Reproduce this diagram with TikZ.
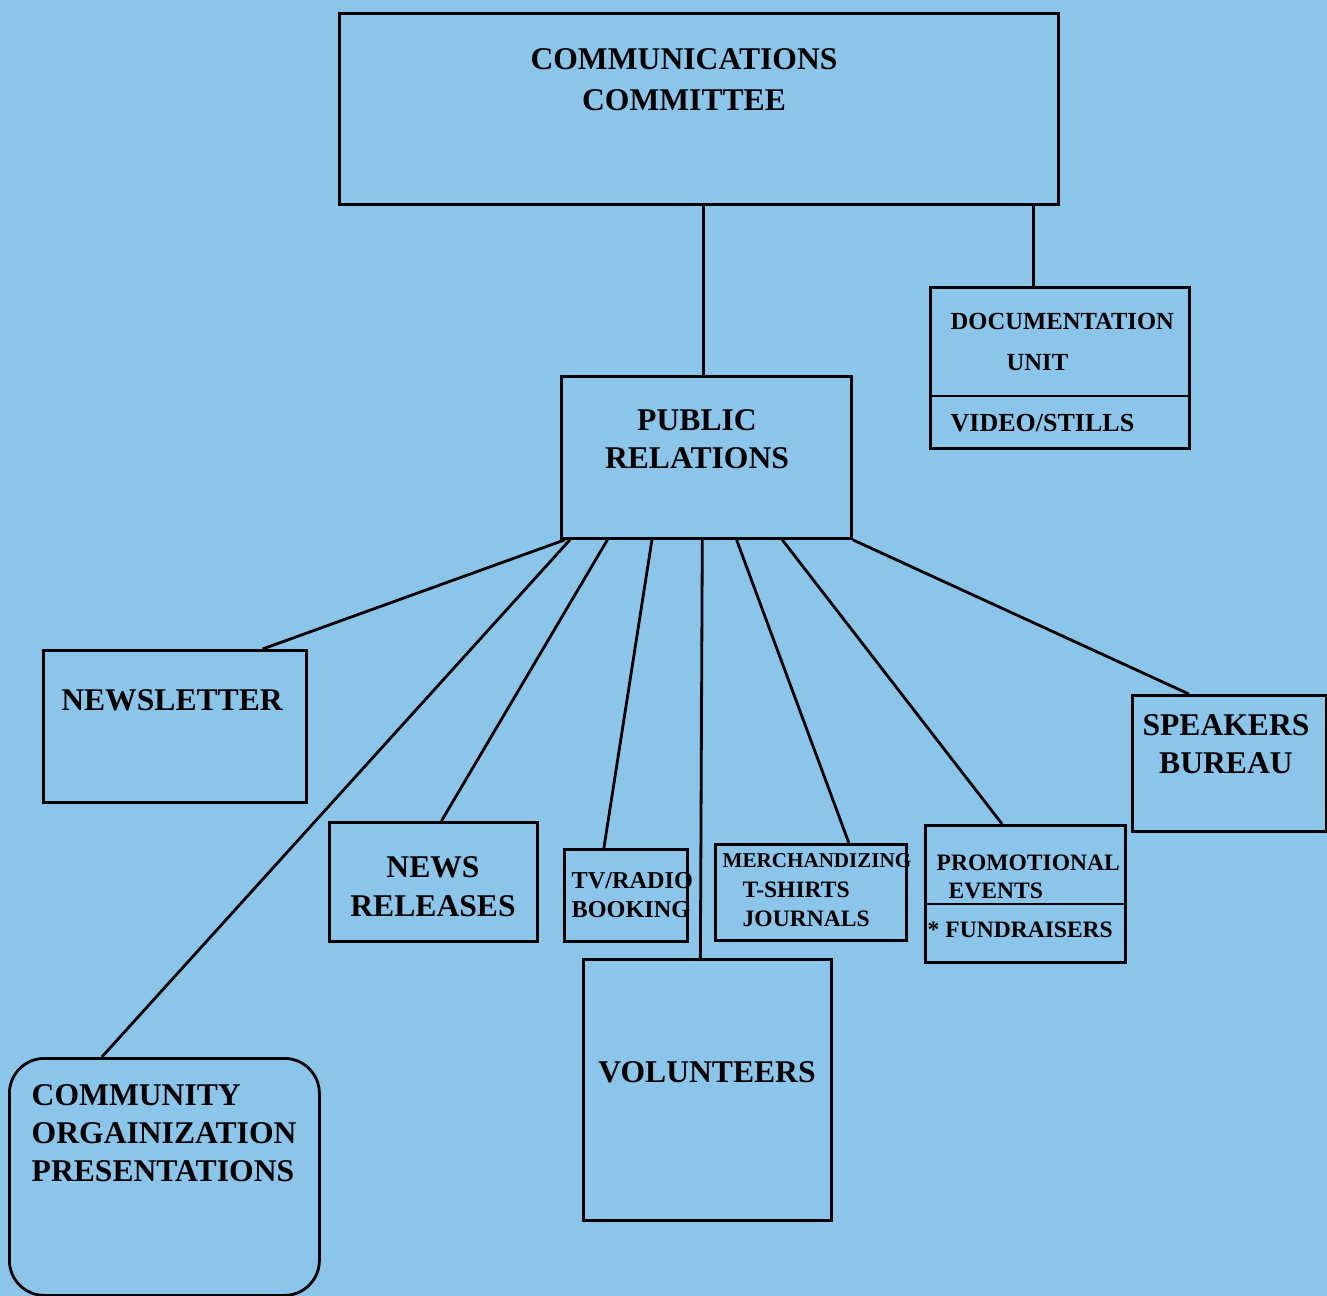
\documentclass[tikz,border=0pt]{standalone}
\usepackage{fontspec}
\setmainfont{Liberation Serif}
\usetikzlibrary{calc}
\definecolor{sheet}{RGB}{139,198,234}
\tikzset{
    unit-box/.style = {draw=black, line width=0.8pt, rectangle, inner sep=0pt, anchor=north west},
    big-label/.style = {font=\fontsize{9}{10.8}\selectfont\bfseries, inner sep=0pt},
    small-label/.style = {font=\fontsize{6.7}{8.1}\selectfont\bfseries, inner sep=0pt},
    link/.style = {draw=black, line width=0.8pt},
}

\begin{document}
\begin{tikzpicture}
\useasboundingbox (0,0) rectangle (13.27,-12.96);
\fill[sheet] (0,0) rectangle (13.27,-12.96);

% boxes
\node[unit-box, minimum width=7.19cm, minimum height=1.91cm] (comm) at (3.38,-0.12) {};
\node[unit-box, minimum width=2.59cm, minimum height=1.61cm] (doc) at (9.29,-2.86) {};
\node[unit-box, minimum width=2.90cm, minimum height=1.62cm] (pr) at (5.60,-3.75) {};
\node[unit-box, minimum width=2.63cm, minimum height=1.52cm] (newsletter) at (0.42,-6.49) {};
\node[unit-box, minimum width=2.08cm, minimum height=1.19cm] (releases) at (3.28,-8.21) {};
\node[unit-box, minimum width=1.23cm, minimum height=0.92cm] (tvradio) at (5.63,-8.48) {};
\node[unit-box, minimum width=1.91cm, minimum height=0.96cm] (merch) at (7.14,-8.43) {};
\node[unit-box, minimum width=2.00cm, minimum height=1.37cm] (promo) at (9.24,-8.24) {};
\node[unit-box, minimum width=1.94cm, minimum height=1.36cm] (speakers) at (11.31,-6.94) {};
\node[unit-box, minimum width=2.48cm, minimum height=2.61cm] (volunteers) at (5.82,-9.58) {};
\node[unit-box, rounded corners=0.35cm, minimum width=3.10cm, minimum height=2.37cm] (community) at (0.08,-10.57) {};

% dividers
\draw[link] ([yshift=-1.10cm]doc.north west) -- ([yshift=-1.10cm]doc.north east);
\draw[link] ([yshift=-0.80cm]promo.north west) -- ([yshift=-0.80cm]promo.north east);

% labels
\node[big-label, anchor=north, align=center] at (6.84,-0.475) {COMMUNICATIONS\\[1.1pt]COMMITTEE};
\node[small-label, anchor=north west, align=left, font=\fontsize{7}{8.1}\selectfont\bfseries] at (9.50,-3.128) {DOCUMENTATION\\[3.6pt]\hspace*{5.6mm}UNIT};
\node[small-label, anchor=north west, font=\fontsize{7.4}{8.1}\selectfont\bfseries] at (9.50,-4.134) {VIDEO/STILLS};
\node[big-label, anchor=north, align=center] at (6.97,-4.085) {PUBLIC\\RELATIONS};
\node[big-label, anchor=north] at (1.72,-6.885) {NEWSLETTER};
\node[big-label, anchor=north, align=center] at (4.33,-8.555) {NEWS\\[0.3pt]RELEASES};
\node[small-label, anchor=north west, align=left, font=\fontsize{6.9}{8.1}\selectfont\bfseries] at (5.71,-8.722) {TV/RADIO\\BOOKING};
\node[small-label, anchor=north west, align=left] at (7.22,-8.53) {{\fontsize{6}{8}\selectfont MERCHANDIZING}\\[0.3pt]\hspace*{2mm}T-SHIRTS\\[0.3pt]\hspace*{2mm}JOURNALS};
\node[small-label, anchor=north west, align=left] at (9.36,-8.542) {PROMOTIONAL\\\hspace*{1.2mm}EVENTS};
\node[small-label, anchor=north west] at (9.27,-9.212) {* FUNDRAISERS};
\node[big-label, anchor=north, align=center] at (12.26,-7.135) {SPEAKERS\\BUREAU};
\node[big-label, anchor=north] at (7.07,-10.605) {VOLUNTEERS};
\node[big-label, anchor=north west, align=left] at (0.31,-10.835) {COMMUNITY\\ORGAINIZATION\\PRESENTATIONS};

% connectors
\coordinate (pr-top) at ($(pr.north west)!0.49!(pr.north east)$);
\draw[link] (pr-top) -- (pr-top |- comm.south);
\coordinate (doc-top) at ($(doc.north west)!0.40!(doc.north east)$);
\draw[link] (doc-top) -- (doc-top |- comm.south);
\draw[link] ($(pr.south west)!0.017!(pr.south east)$) -- ($(newsletter.north west)!0.83!(newsletter.north east)$);
\draw[link] ($(pr.south west)!0.034!(pr.south east)$) -- ($(community.north west)!0.30!(community.north east)$);
\draw[link] ($(pr.south west)!0.162!(pr.south east)$) -- ($(releases.north west)!0.538!(releases.north east)$);
\draw[link] ($(pr.south west)!0.314!(pr.south east)$) -- ($(tvradio.north west)!0.325!(tvradio.north east)$);
\draw[link] ($(pr.south west)!0.486!(pr.south east)$) -- ($(volunteers.north west)!0.472!(volunteers.north east)$);
\draw[link] ($(pr.south west)!0.603!(pr.south east)$) -- ($(merch.north west)!0.696!(merch.north east)$);
\draw[link] ($(pr.south west)!0.759!(pr.south east)$) -- ($(promo.north west)!0.385!(promo.north east)$);
\draw[link] (pr.south east) -- ($(speakers.north west)!0.294!(speakers.north east)$);
\end{tikzpicture}
\end{document}
